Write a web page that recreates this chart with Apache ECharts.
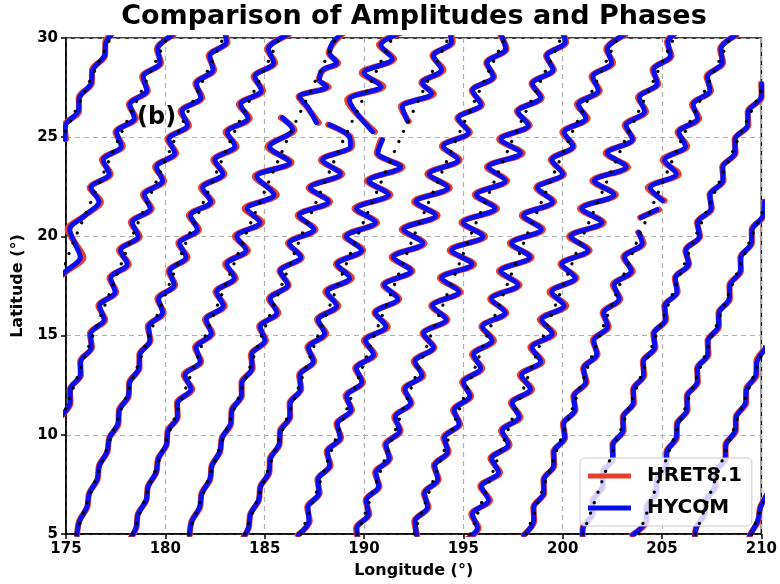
<!DOCTYPE html>
<html><head><meta charset="utf-8">
<script src="https://cdn.jsdelivr.net/npm/echarts@6/dist/echarts.min.js"></script>
<style>html,body{margin:0;padding:0;background:#fff}#c{width:780px;height:584px}</style>
</head><body><div id="c"></div>
<script>
const xTicks = [175,180,185,190,195,200,205,210];
const yTicks = [5,10,15,20,25,30];
const legendNames = ['HRET8.1','HYCOM'];
// ground tracks (dotted): longitude at latitudes 5..30
const trackLats = [5,10,15,20,25,30];
const trk_L3 = [166.99,168.80,170.67,172.65,174.84,177.24];
const trk_L2 = [169.83,171.64,173.51,175.49,177.68,180.08];
const trk_L1 = [172.67,174.48,176.35,178.33,180.52,182.92];
const trk_T1 = [175.50,177.31,179.18,181.16,183.35,185.75];
const trk_T2 = [178.34,180.15,182.02,184.00,186.19,188.59];
const trk_T3 = [181.17,182.98,184.85,186.83,189.02,191.42];
const trk_T4 = [184.00,185.81,187.68,189.66,191.85,194.25];
const trk_T5 = [186.84,188.65,190.52,192.50,194.69,197.09];
const trk_T6 = [189.68,191.49,193.36,195.34,197.53,199.93];
const trk_T7 = [192.51,194.32,196.19,198.17,200.36,202.76];
const trk_T8 = [195.35,197.16,199.03,201.01,203.20,205.60];
const trk_T9 = [198.18,199.99,201.86,203.84,206.03,208.43];
const trk_T10 = [201.02,202.83,204.70,206.68,208.87,211.27];
const trk_T11 = [203.85,205.66,207.53,209.51,211.70,214.10];
const trk_T12 = [206.69,208.50,210.37,212.35,214.54,216.94];
const trk_T13 = [209.52,211.33,213.20,215.18,217.37,219.77];
const tracks = [trk_L3,trk_L2,trk_L1,trk_T1,trk_T2,trk_T3,trk_T4,trk_T5,trk_T6,trk_T7,trk_T8,trk_T9,trk_T10,trk_T11,trk_T12,trk_T13];

// wave curves: vertex latitude, HYCOM longitude, HRET8.1 longitude (null = data gap)
const lat_L3 = [24.9,25.6,26.3,27.0,27.7,28.4,29.1,29.8,30.5];
const hy_L3 = [174.95,174.98,175.61,175.68,176.26,176.35,176.93,177.02,177.60];
const hr_L3 = [175.00,174.93,175.66,175.64,176.30,176.31,176.97,176.98,177.64];

const lat_L2 = [17.55,18.25,18.95,19.65,20.35,21.05,21.75,22.45,23.15,23.85,24.55,25.25,25.95,26.65,27.35,28.05,28.75,29.45,30.15];
const hy_L2 = [174.22,175.00,175.72,175.45,175.19,175.95,176.66,176.26,177.17,176.88,177.78,177.55,178.44,178.22,179.06,178.89,179.73,179.62,180.35];
const hr_L2 = [174.15,175.05,175.88,175.47,175.08,175.95,176.76,176.19,177.25,176.81,177.86,177.49,178.52,178.16,179.12,178.83,179.79,179.57,180.40];

const lat_L1 = [10.9,11.6,12.3,13.0,13.7,14.4,15.1,15.8,16.5,17.2,17.9,18.6,19.3,20.0,20.7,21.4,22.1,22.8,23.5,24.2,24.9,25.6,26.3,27.0,27.7,28.4,29.1,29.8,30.5];
const hy_L1 = [174.72,175.20,175.22,175.72,175.74,176.27,176.24,176.92,176.69,177.47,177.25,178.08,177.75,178.63,178.34,179.24,178.95,179.86,179.56,180.47,180.18,181.11,180.84,181.78,181.57,182.40,182.24,183.07,182.96];
const hr_L1 = [174.70,175.23,175.19,175.75,175.71,176.31,176.20,176.98,176.63,177.53,177.19,178.16,177.67,178.71,178.26,179.32,178.87,179.94,179.48,180.55,180.10,181.19,180.76,181.86,181.51,182.46,182.18,183.13,182.91];

const lat_T1 = [4.95,5.65,6.35,7.05,7.75,8.45,9.15,9.85,10.55,11.25,11.95,12.65,13.35,14.05,14.75,15.45,16.15,16.85,17.55,18.25,18.95,19.65,20.35,21.05,21.75,22.45,23.15,23.85,24.55,25.25,25.95,26.65,27.35,28.05,28.75,29.45,30.15];
const hy_T1 = [175.54,175.68,176.05,176.18,176.57,176.68,177.07,177.19,177.61,177.69,178.13,178.21,178.67,178.72,179.22,179.16,179.86,179.66,180.44,180.22,181.04,180.72,181.61,181.27,182.28,181.88,182.89,182.50,183.50,183.12,184.16,183.79,184.83,184.51,185.45,185.19,186.12];
const hr_T1 = [175.56,175.66,176.07,176.16,176.59,176.66,177.09,177.17,177.64,177.66,178.16,178.18,178.70,178.69,179.26,179.11,179.92,179.60,180.50,180.16,181.12,180.65,181.69,181.18,182.37,181.79,182.98,182.41,183.59,183.03,184.25,183.70,184.92,184.44,185.53,185.12,186.20];

const lat_T2 = [4.6,5.3,6.0,6.7,7.4,8.1,8.8,9.5,10.2,10.9,11.6,12.3,13.0,13.7,14.4,15.1,15.8,16.5,17.2,17.9,18.6,19.3,20.0,20.7,21.4,22.1,23.02,23.72,24.52,25.38,25.98,null,25.73,26.53,27.04,27.54,27.89,28.39,28.74,29.25,29.75,30.3];
const hy_T2 = [178.14,178.52,178.63,179.03,179.14,179.53,179.65,180.05,180.14,180.60,180.62,181.29,180.99,181.75,181.55,182.31,182.06,182.91,182.59,183.47,183.10,184.07,183.60,184.76,184.11,185.47,184.60,186.26,185.25,186.41,185.90,null,187.61,187.16,186.76,188.12,187.76,187.91,188.62,188.27,188.42,188.95];
const hr_T2 = [178.12,178.54,178.61,179.05,179.12,179.55,179.63,180.07,180.11,180.63,180.58,181.36,180.92,181.81,181.49,182.37,181.99,182.99,182.52,183.55,183.01,184.16,183.50,184.87,183.99,185.61,184.50,186.36,185.15,186.50,185.82,null,187.72,187.12,186.70,188.22,187.72,187.97,188.70,188.22,188.48,189.02];

const lat_T3 = [4.95,5.65,6.35,7.05,7.75,8.45,9.15,9.85,10.55,11.25,11.95,12.65,13.35,14.05,14.75,15.45,16.15,16.85,17.55,18.25,18.95,19.65,20.35,21.05,21.75,22.45,23.15,23.85,24.55,25.05,25.63,null,25.28,26.88,27.55,28.25,28.95,29.65,30.3];
const hy_T3 = [181.21,181.34,181.73,181.84,182.24,182.35,182.74,182.86,183.28,183.36,183.82,183.86,184.36,184.35,185.01,184.78,185.61,185.28,186.16,185.79,186.81,186.24,187.48,186.74,188.20,187.30,188.81,187.92,189.32,189.25,188.27,null,190.43,189.27,190.85,190.00,191.42,190.85,191.90];
const hr_T3 = [181.23,181.32,181.75,181.82,182.26,182.33,182.76,182.84,183.31,183.33,183.85,183.83,184.40,184.30,185.07,184.72,185.69,185.21,186.21,185.74,186.87,186.17,187.56,186.66,188.29,187.21,188.90,187.83,189.40,189.30,188.20,null,190.55,189.15,190.98,189.88,191.52,190.75,191.98];

const lat_T4 = [4.6,5.3,6.0,6.7,7.4,8.1,8.8,9.5,10.2,10.9,11.6,12.3,13.0,13.7,14.4,15.1,15.8,16.5,17.2,17.9,18.6,19.3,20.0,20.7,21.4,22.1,22.8,23.5,24.2,24.87,null,25.8,26.53,27.2,27.74,28.4,29.1,29.8,30.5];
const hy_T4 = [183.80,184.18,184.29,184.69,184.80,185.21,185.29,185.72,185.80,186.26,186.29,186.80,186.78,187.44,187.21,188.02,187.70,188.62,188.15,189.28,188.66,189.88,189.11,190.57,189.62,191.23,190.24,191.84,190.70,190.93,null,192.19,191.93,193.40,192.94,193.90,193.50,194.40,194.30];
const hr_T4 = [183.78,184.20,184.27,184.71,184.78,185.24,185.26,185.75,185.77,186.29,186.25,186.84,186.73,187.50,187.15,188.10,187.63,188.71,188.05,189.39,188.59,189.96,189.03,190.66,189.52,191.33,190.14,191.94,190.64,190.85,null,192.25,191.85,193.52,192.88,194.00,193.44,194.47,194.25];

const lat_T5 = [4.95,5.65,6.35,7.05,7.75,8.45,9.15,9.85,10.55,11.25,11.95,12.65,13.35,14.05,14.75,15.45,16.15,16.85,17.55,18.25,18.95,19.65,20.35,21.05,21.75,22.45,23.15,23.85,24.55,25.25,25.95,26.65,27.35,28.05,28.75,29.45,30.15];
const hy_T5 = [186.70,187.23,187.18,187.73,187.69,188.27,188.16,188.80,188.66,189.34,189.13,189.89,189.62,190.47,190.08,191.10,190.58,191.70,191.03,192.36,191.48,192.96,192.00,193.61,192.62,194.22,193.28,194.74,193.99,195.26,194.75,195.88,195.47,196.50,196.19,197.13,196.91];
const hr_T5 = [186.67,187.27,187.14,187.77,187.65,188.32,188.12,188.85,188.61,189.40,189.07,189.95,189.55,190.55,189.99,191.20,190.52,191.77,190.96,192.44,191.39,193.05,191.90,193.71,192.52,194.32,193.19,194.82,193.92,195.33,194.69,195.94,195.42,196.55,196.15,197.18,196.87];

const lat_T6 = [4.6,5.3,6.0,6.7,7.4,8.1,8.8,9.5,10.2,10.9,11.6,12.3,13.0,13.7,14.4,15.1,15.8,16.5,17.2,17.9,18.6,19.3,20.0,20.7,21.4,22.1,22.8,23.5,24.2,24.9,25.6,26.3,27.0,27.7,28.4,29.1,29.8,30.5];
const hy_T6 = [189.69,189.64,190.22,190.12,190.73,190.60,191.26,191.11,191.79,191.58,192.34,192.07,192.91,192.57,193.49,193.00,194.13,193.45,194.78,193.91,195.44,194.41,195.99,195.00,196.60,195.66,197.12,196.27,197.88,196.89,198.27,197.75,198.89,198.48,199.51,199.20,200.13,199.92];
const hr_T6 = [189.73,189.60,190.27,190.08,190.78,190.55,191.31,191.06,191.85,191.52,192.40,192.00,192.99,192.50,193.54,192.94,194.20,193.38,194.86,193.82,195.54,194.31,196.09,194.90,196.70,195.57,197.20,196.18,197.99,196.80,198.34,197.69,198.95,198.43,199.56,199.16,200.18,199.88];

const lat_T7 = [4.95,5.65,6.35,7.05,7.75,8.45,9.15,9.85,10.55,11.25,11.95,12.65,13.35,14.05,14.75,15.45,16.15,16.85,17.55,18.25,18.95,19.65,20.35,21.05,21.75,22.45,23.15,23.85,24.55,25.25,25.95,26.65,27.35,28.05,28.75,29.45,30.15];
const hy_T7 = [192.64,192.57,193.20,193.05,193.71,193.56,194.21,194.05,194.78,194.54,195.33,195.01,195.87,195.52,196.45,195.97,197.10,196.42,197.75,196.88,198.35,197.43,198.92,198.03,199.49,198.74,200.00,199.46,200.51,200.08,201.17,200.80,201.79,201.52,202.46,202.25,203.08];
const hr_T7 = [192.68,192.53,193.25,193.00,193.76,193.51,194.26,193.99,194.84,194.48,195.40,194.94,195.95,195.44,196.54,195.91,197.17,196.35,197.83,196.79,198.44,197.34,199.01,197.94,199.57,198.67,200.07,199.40,200.56,199.98,201.26,200.71,201.87,201.45,202.54,202.19,203.14];

const lat_T8 = [4.6,5.3,6.0,6.7,7.4,8.1,8.8,9.5,10.2,10.9,11.6,12.3,13.0,13.7,14.4,15.1,15.8,16.5,17.2,17.9,18.6,19.3,20.0,20.7,21.4,22.1,22.8,23.5,24.2,24.9,25.6,26.3,27.0,27.7,28.4,29.1,29.8,30.5];
const hy_T8 = [195.01,195.71,195.46,196.27,195.92,196.77,196.43,197.26,196.96,197.80,197.46,198.37,197.93,198.89,198.46,199.47,198.95,200.07,199.45,200.63,199.96,201.28,200.41,201.97,200.97,202.58,201.59,203.19,202.25,203.51,203.19,204.12,203.86,204.75,204.58,205.42,205.30,206.04];
const hr_T8 = [194.96,195.77,195.40,196.35,195.85,196.85,196.36,197.33,196.89,197.88,197.39,198.46,197.84,198.98,198.37,199.57,198.85,200.18,199.34,200.70,199.89,201.36,200.32,202.07,200.87,202.68,201.49,203.29,202.16,203.56,203.12,204.20,203.79,204.81,204.52,205.48,205.25,206.09];

const lat_T9 = [4.95,5.65,6.35,7.05,7.75,8.45,9.15,9.85,10.55,11.25,11.95,12.65,13.35,14.05,14.75,15.45,16.15,16.85,17.55,18.25,18.95,19.65,20.2,null,20.95,21.35,null,21.8,22.45,23.15,23.85,24.55,25.25,25.95,26.65,27.35,28.05,28.75,29.45,30.15];
const hy_T9 = [198.06,198.54,198.55,199.04,199.06,199.55,199.56,200.09,200.05,200.61,200.57,201.16,201.06,201.71,201.57,202.26,202.07,202.84,202.59,203.45,203.12,204.00,203.83,null,203.95,204.75,null,205.03,204.41,205.72,205.13,206.18,205.85,206.79,206.57,207.41,207.29,208.03,207.97,208.70];
const hr_T9 = [198.04,198.57,198.52,199.07,199.03,199.58,199.53,200.13,200.01,200.65,200.53,201.21,201.02,201.76,201.52,202.32,202.01,202.90,202.52,203.53,203.05,204.08,203.80,null,203.90,204.85,null,205.13,204.28,205.85,205.03,206.27,205.78,206.87,206.51,207.47,207.24,208.08,207.92,208.75];

const lat_T10 = [4.6,5.3,6.0,6.7,7.4,8.1,8.8,9.5,10.2,10.9,11.6,12.3,13.0,13.7,14.4,15.1,15.8,16.5,17.2,17.9,18.6,19.3,20.0,20.7,21.4,22.1,22.8,23.5,24.2,24.9,25.6,26.3,27.0,27.7];
const hy_T10 = [200.98,201.03,201.48,201.54,201.99,202.04,202.50,202.53,203.03,203.05,203.55,203.57,204.07,204.06,204.63,204.59,205.17,205.14,205.75,205.67,206.33,206.20,206.88,206.79,207.47,207.42,208.06,208.06,208.67,208.68,209.31,209.34,209.98,210.02];
const hr_T10 = [201.02,201.00,201.52,201.51,202.03,202.01,202.54,202.50,203.07,203.02,203.59,203.54,204.11,204.03,204.67,204.56,205.21,205.11,205.79,205.64,206.37,206.17,206.92,206.76,207.51,207.39,208.10,208.03,208.71,208.65,209.35,209.31,210.02,209.99];

const lat_T11 = [4.95,5.65,6.35,7.05,7.75,8.45,9.15,9.85,10.55,11.25,11.95,12.65,13.35,14.05,14.75,15.45,16.15,16.85,17.55,18.25,18.95,19.65,20.35,21.05,21.75];
const hy_T11 = [203.53,204.19,204.24,204.69,204.75,205.20,205.25,205.71,205.77,206.25,206.27,206.77,206.79,207.30,207.32,207.83,207.87,208.38,208.42,208.94,208.97,209.49,209.54,210.09,210.16];
const hr_T11 = [203.50,204.23,204.21,204.73,204.72,205.24,205.22,205.75,205.74,206.29,206.24,206.81,206.76,207.34,207.29,207.87,207.84,208.42,208.39,208.98,208.94,209.53,209.51,210.13,210.13];

const lat_T12 = [4.6,5.3,6.0,6.7,7.4,8.1,8.8,9.5,10.2,10.9,11.6,12.3,13.0,13.7,14.4];
const hy_T12 = [206.63,206.72,207.13,207.23,207.66,207.71,208.17,208.22,208.68,208.74,209.20,209.26,209.72,209.78,210.25];
const hr_T12 = [206.66,206.70,207.16,207.21,207.70,207.68,208.21,208.19,208.72,208.71,209.24,209.23,209.76,209.75,210.29];

const lat_T13 = [4.25,4.95,5.65,6.35,7.05];
const hy_T13 = [209.27,209.45,209.81,209.96,210.31];
const hr_T13 = [209.29,209.43,209.84,209.94,210.34];

const waves = [
  [lat_L3,hy_L3,hr_L3],[lat_L2,hy_L2,hr_L2],[lat_L1,hy_L1,hr_L1],[lat_T1,hy_T1,hr_T1],
  [lat_T2,hy_T2,hr_T2],[lat_T3,hy_T3,hr_T3],[lat_T4,hy_T4,hr_T4],[lat_T5,hy_T5,hr_T5],
  [lat_T6,hy_T6,hr_T6],[lat_T7,hy_T7,hr_T7],[lat_T8,hy_T8,hr_T8],[lat_T9,hy_T9,hr_T9],
  [lat_T10,hy_T10,hr_T10],[lat_T11,hy_T11,hr_T11],[lat_T12,hy_T12,hr_T12],[lat_T13,hy_T13,hr_T13]
];

const RED = '#e8402c', BLUE = '#0a0ff0';
const series = [];
function segs(lat, lon){
  const out=[]; let cur=[];
  for(let i=0;i<lat.length;i++){
    if(lon[i]===null || lat[i]===null){ if(cur.length) out.push(cur); cur=[]; }
    else cur.push([lon[i],lat[i]]);
  }
  if(cur.length) out.push(cur);
  return out;
}
waves.forEach(w=>{
  segs(w[0],w[2]).forEach(d=>series.push({type:'line',name:'HRET8.1',data:d,smooth:0.3,showSymbol:false,symbol:'none',z:2,
    lineStyle:{color:RED,width:6,cap:'round',join:'round'},itemStyle:{color:RED},silent:true}));
});
waves.forEach(w=>{
  segs(w[0],w[1]).forEach(d=>series.push({type:'line',name:'HYCOM',data:d,smooth:0.3,showSymbol:false,symbol:'none',z:3,
    lineStyle:{color:BLUE,width:5,cap:'round',join:'round'},itemStyle:{color:BLUE},silent:true}));
});
tracks.forEach(t=>{
  series.push({type:'line',name:'track',data:t.map((v,i)=>[v,trackLats[i]]),showSymbol:false,symbol:'none',z:4,silent:true,
    lineStyle:{color:'#000',width:3.2,type:[0.1,11],cap:'round'}});
});

const chart = echarts.init(document.getElementById('c'),null,{renderer:'canvas'});
const lbl = {color:'#000',fontSize:15,fontWeight:'bold',fontFamily:'DejaVu Sans',margin:8};
const axisCommon = {
  axisLine:{show:true,lineStyle:{color:'#000',width:1.5}},
  axisTick:{show:true,inside:false,length:5,lineStyle:{color:'#000',width:1.5}},
  axisLabel:lbl,
  splitLine:{show:true,lineStyle:{color:'#b0b0b0',width:1.2,type:[5,4]}},
  nameLocation:'middle',
  nameTextStyle:{color:'#000',fontSize:16,fontWeight:'bold',fontFamily:'DejaVu Sans'}
};
chart.setOption({
  animation:false,
  backgroundColor:'#fff',
  title:{text:'Comparison of Amplitudes and Phases',left:414,top:3,padding:0,textAlign:'center',
    textStyle:{fontSize:27,fontWeight:'bold',color:'#000',fontFamily:'DejaVu Sans'}},
  grid:{left:66,right:17,top:38,bottom:48,show:true,borderColor:'#000',borderWidth:1.5,backgroundColor:'transparent'},
  xAxis:Object.assign({type:'value',min:xTicks[0],max:xTicks[xTicks.length-1],interval:5,name:'Longitude (°)',nameGap:29},axisCommon),
  yAxis:Object.assign({type:'value',min:yTicks[0],max:yTicks[yTicks.length-1],interval:5,name:'Latitude (°)',nameGap:38},axisCommon),
  legend:{data:[{name:legendNames[0],icon:'rect'},{name:legendNames[1],icon:'rect'}],orient:'vertical',left:580,top:458,
    itemWidth:43,itemHeight:5,itemGap:12,padding:[8,10,8,8],
    backgroundColor:'rgba(255,255,255,0.8)',borderColor:'#cccccc',borderWidth:1,borderRadius:5,
    textStyle:{fontSize:20,fontWeight:'bold',color:'#000',fontFamily:'DejaVu Sans',padding:[0,0,0,11]}},
  graphic:[{type:'text',left:137,top:106,z:10,style:{text:'(b)',fontSize:24,fontWeight:'bold',fill:'#000',fontFamily:'DejaVu Sans'}}],
  series:series
});
</script></body></html>
